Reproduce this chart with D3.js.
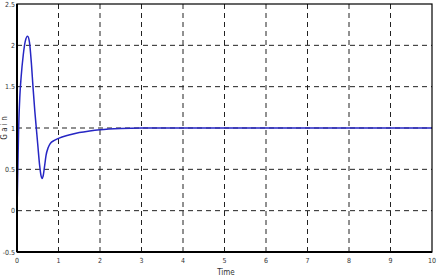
<!DOCTYPE html>
<html>
<head>
<meta charset="utf-8">
<script src="https://cdn.jsdelivr.net/npm/d3@7"></script>
<style>
  body { margin: 0; background: #fff; }
  svg text { font-family: "Liberation Sans Narrow", "DejaVu Sans Condensed", sans-serif; fill: #333; }
</style>
</head>
<body>
<div id="chart"></div>
<script>
// step response
const times = [0, 0.01, 0.02, 0.04, 0.07, 0.1, 0.15, 0.2, 0.255, 0.3, 0.35, 0.385, 0.43, 0.465, 0.5,
  0.545, 0.58, 0.6, 0.63, 0.66, 0.7, 0.75, 0.8, 0.9, 1.0, 1.25, 1.5, 1.75, 2, 2.5, 3, 4, 5, 6, 7, 8, 9, 10];
const gains = [0, 0.25, 0.5, 1.0, 1.4, 1.62, 1.88, 2.05, 2.11, 2.04, 1.76, 1.5, 1.2, 1.0, 0.8,
  0.55, 0.42, 0.39, 0.42, 0.52, 0.67, 0.76, 0.81, 0.85, 0.875, 0.915, 0.945, 0.965, 0.98, 0.995, 1.0, 1.0, 1.0, 1.0, 1.0, 1.0, 1.0, 1.0];
const xTicks = [0, 1, 2, 3, 4, 5, 6, 7, 8, 9, 10];
const yTicks = [-0.5, 0, 0.5, 1, 1.5, 2, 2.5];

const width = 438, height = 278;
const margin = { top: 4, right: 6, bottom: 26, left: 17 };

const svg = d3.select("#chart").append("svg")
  .attr("width", width)
  .attr("height", height);

const x = d3.scaleLinear()
  .domain([0, 10])
  .range([margin.left, width - margin.right]);

const y = d3.scaleLinear()
  .domain([-0.5, 2.5])
  .range([height - margin.bottom, margin.top]);

// dashed grid
svg.append("g")
  .selectAll("line")
  .data(xTicks.slice(1, -1))
  .join("line")
  .attr("x1", d => x(d)).attr("x2", d => x(d))
  .attr("y1", y(2.5)).attr("y2", y(-0.5))
  .attr("stroke", "#222")
  .attr("stroke-width", 1)
  .attr("stroke-dasharray", "5,4");

svg.append("g")
  .selectAll("line")
  .data(yTicks.slice(1, -1))
  .join("line")
  .attr("x1", x(0)).attr("x2", x(10))
  .attr("y1", d => y(d)).attr("y2", d => y(d))
  .attr("stroke", "#222")
  .attr("stroke-width", 1)
  .attr("stroke-dasharray", "5,4");

// the response curve
const line = d3.line()
  .x((d, i) => x(times[i]))
  .y(d => y(d))
  .curve(d3.curveMonotoneX);

svg.append("path")
  .datum(gains)
  .attr("fill", "none")
  .attr("stroke", "#2626c4")
  .attr("stroke-width", 1.5)
  .attr("d", line);

// frame
svg.append("rect")
  .attr("x", x(0)).attr("y", y(2.5))
  .attr("width", x(10) - x(0))
  .attr("height", y(-0.5) - y(2.5))
  .attr("fill", "none")
  .attr("stroke", "#000")
  .attr("stroke-width", 1.2);

svg.append("line")
  .attr("x1", x(0)).attr("x2", x(10))
  .attr("y1", y(-0.5)).attr("y2", y(-0.5))
  .attr("stroke", "#000").attr("stroke-width", 2);
svg.append("line")
  .attr("x1", x(0)).attr("x2", x(0))
  .attr("y1", y(2.5)).attr("y2", y(-0.5))
  .attr("stroke", "#000").attr("stroke-width", 2);

// tick labels
svg.append("g")
  .selectAll("text")
  .data(xTicks)
  .join("text")
  .attr("x", d => x(d))
  .attr("y", y(-0.5) + 11)
  .attr("text-anchor", "middle")
  .attr("font-size", "7px")
  .text(d => d);

svg.append("g")
  .selectAll("text")
  .data(yTicks)
  .join("text")
  .attr("x", x(0) - 2)
  .attr("y", d => y(d) + 2.5)
  .attr("text-anchor", "end")
  .attr("font-size", "7px")
  .text(d => d);

// axis labels
svg.append("text")
  .attr("x", 226)
  .attr("y", height - 3)
  .attr("text-anchor", "middle")
  .attr("font-size", "8px")
  .text("Time");

svg.append("text")
  .attr("transform", `translate(7, ${(y(2.5) + y(-0.5)) / 2}) rotate(-90)`)
  .attr("text-anchor", "middle")
  .attr("font-size", "8px")
  .text("G a i n");
</script>
</body>
</html>
